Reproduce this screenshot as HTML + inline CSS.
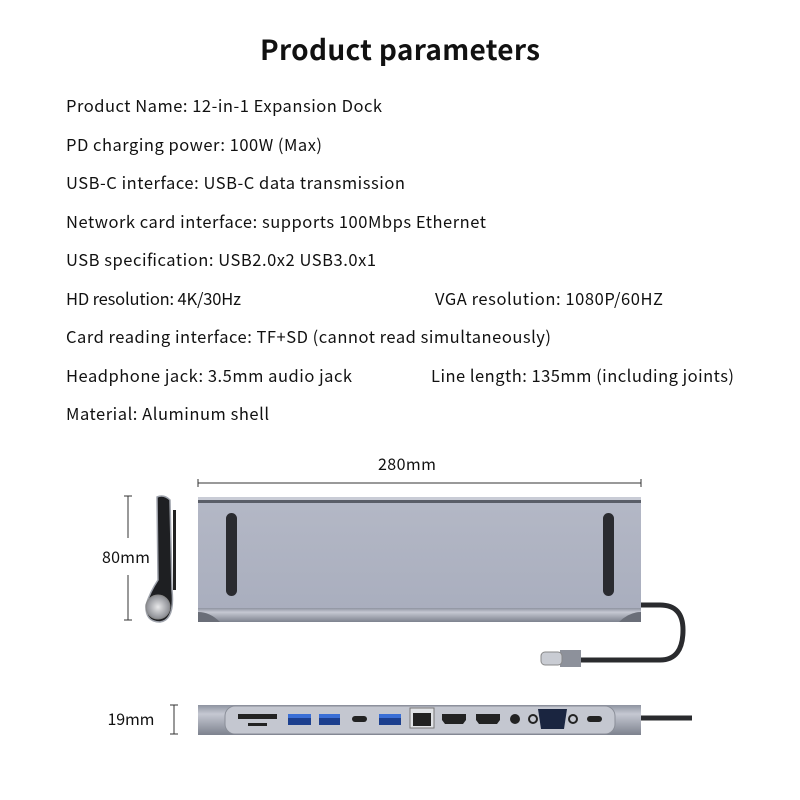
<!DOCTYPE html>
<html><head><meta charset="utf-8"><style>
html,body{margin:0;padding:0;background:#fff}
svg{display:block}
text{font-family:"Noto Sans CJK SC","Liberation Sans",sans-serif;fill:#111}
</style></head><body>
<svg width="800" height="800" viewBox="0 0 800 800" xmlns="http://www.w3.org/2000/svg">
<defs>
<linearGradient id="pan" x1="0" y1="0" x2="0" y2="1"><stop offset="0" stop-color="#b4b8c6"/><stop offset="1" stop-color="#a8adbd"/></linearGradient>
<linearGradient id="bar" x1="0" y1="0" x2="0" y2="1"><stop offset="0" stop-color="#8e93a0"/><stop offset="0.3" stop-color="#c5c8d2"/><stop offset="1" stop-color="#7d828e"/></linearGradient>
<radialGradient id="knob"><stop offset="0" stop-color="#e8e8ea"/><stop offset="1" stop-color="#8a8c92"/></radialGradient>
</defs>
<text x="400" y="60" text-anchor="middle" font-size="28" font-weight="bold" textLength="280">Product parameters</text>
<g font-size="16.5">
<text x="66" y="112" textLength="316">Product Name: 12-in-1 Expansion Dock</text>
<text x="66" y="151" textLength="256">PD charging power: 100W (Max)</text>
<text x="66" y="189" textLength="339">USB-C interface: USB-C data transmission</text>
<text x="66" y="228" textLength="420">Network card interface: supports 100Mbps Ethernet</text>
<text x="66" y="266" textLength="310">USB specification: USB2.0x2 USB3.0x1</text>
<text x="66" y="305" textLength="175">HD resolution: 4K/30Hz</text>
<text x="435" y="305" textLength="228">VGA resolution: 1080P/60HZ</text>
<text x="66" y="343" textLength="485">Card reading interface: TF+SD (cannot read simultaneously)</text>
<text x="66" y="382" textLength="286">Headphone jack: 3.5mm audio jack</text>
<text x="431" y="382" textLength="303">Line length: 135mm (including joints)</text>
<text x="66" y="420" textLength="203">Material: Aluminum shell</text>
</g>
<!-- 280mm dim -->
<text x="407" y="470" text-anchor="middle" font-size="16" fill="#222" textLength="58">280mm</text>
<line x1="198" y1="483" x2="641" y2="483" stroke="#333" stroke-width="1"/>
<line x1="198" y1="479" x2="198" y2="487" stroke="#333"/><line x1="641" y1="479" x2="641" y2="487" stroke="#333"/>
<!-- main panel -->
<rect x="198" y="497" width="443" height="125" fill="url(#pan)"/>
<rect x="198" y="497" width="443" height="3" fill="#c9ccd6"/>
<rect x="198" y="500" width="443" height="3" fill="#5a5e68"/>
<rect x="198" y="608" width="443" height="14" fill="url(#bar)"/>
<path d="M198 622 L198 612 Q210 612 220 622 Z" fill="#6a6e78"/>
<path d="M641 622 L641 612 Q629 612 619 622 Z" fill="#6a6e78"/>
<rect x="226" y="513" width="11" height="83" rx="5.5" fill="#2a2b30"/>
<rect x="603" y="513" width="11" height="83" rx="5.5" fill="#2a2b30"/>
<!-- cable -->
<path d="M641 605 L660 605 Q683 605 683 630 Q683 660 660 660 L581 660" fill="none" stroke="#2a2b2e" stroke-width="5"/>
<rect x="560" y="650" width="21" height="17" fill="#8d919b"/>
<rect x="541" y="652" width="21" height="13" rx="4" fill="#c9ccd3" stroke="#888" stroke-width="1"/>
<!-- 80mm dim -->
<line x1="128" y1="496" x2="128" y2="538" stroke="#333"/><line x1="128" y1="575" x2="128" y2="620" stroke="#333"/>
<line x1="124" y1="496" x2="132" y2="496" stroke="#333"/><line x1="124" y1="620" x2="132" y2="620" stroke="#333"/>
<text x="126" y="563" text-anchor="middle" font-size="16" fill="#222" textLength="48">80mm</text>
<!-- side view -->
<path d="M157 497 Q164 494 170 500 L172 590 Q175 620 160 622 Q145 622 146 605 Q150 592 158 580 Z" fill="#1e1f22" stroke="#a0a4ad" stroke-width="1.5"/>
<rect x="173" y="510" width="3" height="80" fill="#222"/>
<circle cx="158" cy="607" r="12" fill="url(#knob)" stroke="#888" stroke-width="1"/>
<!-- 19mm dim -->
<text x="131" y="725" text-anchor="middle" font-size="16" fill="#222" textLength="47">19mm</text>
<line x1="174" y1="705" x2="174" y2="734" stroke="#333"/>
<line x1="170" y1="705" x2="178" y2="705" stroke="#333"/><line x1="170" y1="734" x2="178" y2="734" stroke="#333"/>
<!-- bottom bar -->
<line x1="641" y1="718" x2="692" y2="718" stroke="#2a2b2e" stroke-width="5"/>
<rect x="198" y="705" width="443" height="30" fill="url(#bar)"/>
<rect x="225" y="706" width="390" height="28" rx="10" fill="#c4c7d0" stroke="#8a8e98"/>
<rect x="238" y="714" width="39" height="5" fill="#222"/><rect x="248" y="723" width="19" height="3" fill="#222"/>
<g fill="#1c3f8e"><rect x="288" y="714" width="23" height="11"/><rect x="319" y="714" width="21" height="11"/><rect x="379" y="714" width="22" height="11"/></g>
<g fill="#3a6fd6"><rect x="288" y="714" width="23" height="4"/><rect x="319" y="714" width="21" height="4"/><rect x="379" y="714" width="22" height="4"/></g>
<rect x="352" y="716" width="15" height="6" rx="3" fill="#222"/>
<rect x="587" y="716" width="15" height="6" rx="3" fill="#222"/>
<rect x="410" y="708" width="24" height="20" fill="#e0e2e6" stroke="#777"/><rect x="413" y="713" width="18" height="13" fill="#222"/>
<path d="M442 714 h24 v6 l-3 4 h-18 l-3 -4 z" fill="#222"/>
<path d="M476 714 h24 v6 l-3 4 h-18 l-3 -4 z" fill="#222"/>
<circle cx="515" cy="719" r="5" fill="#222"/>
<circle cx="533" cy="719" r="4" fill="none" stroke="#222" stroke-width="2"/>
<circle cx="573" cy="719" r="4" fill="none" stroke="#222" stroke-width="2"/>
<path d="M538 709 h29 l-3 20 h-23 z" fill="#1a2540"/>
</svg>
</body></html>
